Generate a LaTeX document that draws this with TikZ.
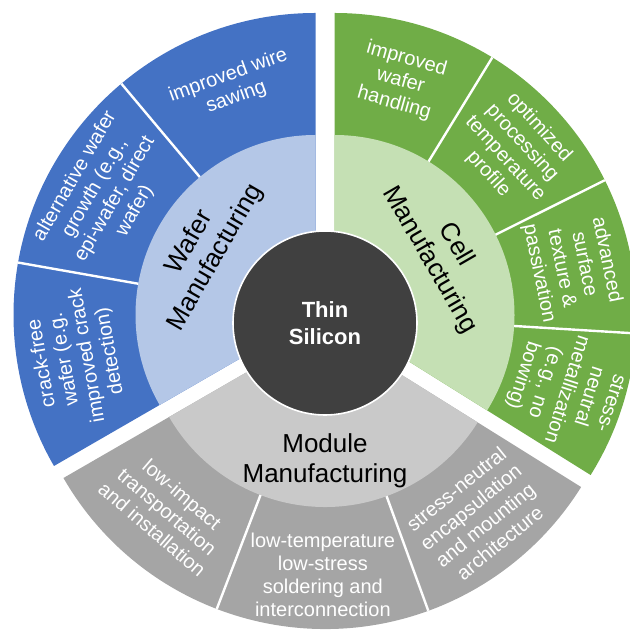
\documentclass[tikz,border=0pt]{standalone}
\usepackage{fontspec}
\setmainfont{Liberation Sans}
\definecolor{waferdark}{HTML}{4472C4}
\definecolor{waferlight}{HTML}{B4C7E7}
\definecolor{celldark}{HTML}{70AD47}
\definecolor{celllight}{HTML}{C5E0B4}
\definecolor{moduledark}{HTML}{A5A5A5}
\definecolor{modulelight}{HTML}{C9C9C9}
\definecolor{corefill}{HTML}{404040}

\begin{document}
\begin{tikzpicture}[x=0.5pt,y=0.5pt,
		item/.style={text=white,align=center,inner sep=0pt,font=\fontsize{10}{11.5}\selectfont},
		area/.style={text=black,align=center,inner sep=0pt,font=\fontsize{13}{15}\selectfont},
		cut/.style={white,line width=1.2pt}]
		\useasboundingbox (0,0) rectangle (630,631);
		\clip (0,0) rectangle (630,631);
		\coordinate (wafer) at (315.5,316);
		\coordinate (cell) at (334.5,316);
		\coordinate (module) at (325,304);
		\coordinate (core) at (325,308);
		\fill[waferdark] (wafer) -- ++(90:302) arc[start angle=90,end angle=210,radius=302] -- cycle;
		\fill[waferlight] (wafer) -- ++(90:180) arc[start angle=90,end angle=210,radius=180] -- cycle;
		\fill[celldark] (cell) -- ++(90:302) arc[start angle=90,end angle=-32,radius=302] -- cycle;
		\fill[celllight] (cell) -- ++(90:180) arc[start angle=90,end angle=-32,radius=180] -- cycle;
		\fill[moduledark] (module) -- ++(210:302) arc[start angle=210,end angle=328,radius=302] -- cycle;
		\fill[modulelight] (module) -- ++(210:180) arc[start angle=210,end angle=328,radius=180] -- cycle;
		\foreach \a in {130,170}
			\draw[cut] ([shift={(\a:180)}]wafer) -- ([shift={(\a:302)}]wafer);
		\foreach \a in {58.5,26.5,-3.5}
			\draw[cut] ([shift={(\a:180)}]cell) -- ([shift={(\a:302)}]cell);
		\foreach \a in {249,290}
			\draw[cut] ([shift={(\a:180)}]module) -- ([shift={(\a:302)}]module);
		\node[item,rotate=20] (sawing) at ([shift={(110:243)}]wafer) {improved wire\\sawing};
		\node[item,rotate=60] (growth) at ([shift={(150:243)}]wafer) {alternative wafer\\growth (e.g.,\\epi-wafer, direct\\wafer)};
		\node[item,rotate=100] (crackfree) at ([shift={(190:243)}]wafer) {crack-free\\wafer (e.g.\\improved crack\\detection)};
		\node[item,rotate=-15.75] (handling) at ([shift={(74.25:243)}]cell) {improved\\wafer\\handling};
		\node[item,rotate=-47.5] (profile) at ([shift={(42.5:243)}]cell) {optimized\\processing\\temperature\\profile};
		\node[item,rotate=-78.5] (texture) at ([shift={(11.5:243)}]cell) {advanced\\surface\\texture \&\\passivation};
		\node[item,rotate=-107.75] (metal) at ([shift={(-17.75:243)}]cell) {stress-\\neutral\\metallization\\(e.g., no\\bowing)};
		\node[item,rotate=-40.5] (transport) at ([shift={(229.5:243)}]module) {low-impact\\transportation\\and installation};
		\node[item] (solder) at ([shift={(269.5:248)}]module) {low-temperature\\low-stress\\soldering and\\interconnection};
		\node[item,rotate=39] (encaps) at ([shift={(309:243)}]module) {stress-neutral\\encapsulation\\and mounting\\architecture};
		\node[area,rotate=60] (waferarea) at ([shift={(150:130)}]wafer) {Wafer\\Manufacturing};
		\node[area,rotate=-60] (cellarea) at ([shift={(30:125)}]cell) {Cell\\Manufacturing};
		\node[area] (modulearea) at ([shift={(270:134)}]module) {Module\\Manufacturing};
		\node[circle,fill=corefill,draw=white,line width=0.8pt,minimum size=92pt,inner sep=0pt,
			text=white,align=center,font=\bfseries\fontsize{11}{13.5}\selectfont] (thin) at (core) {Thin\\Silicon};
	\end{tikzpicture}
\end{document}
